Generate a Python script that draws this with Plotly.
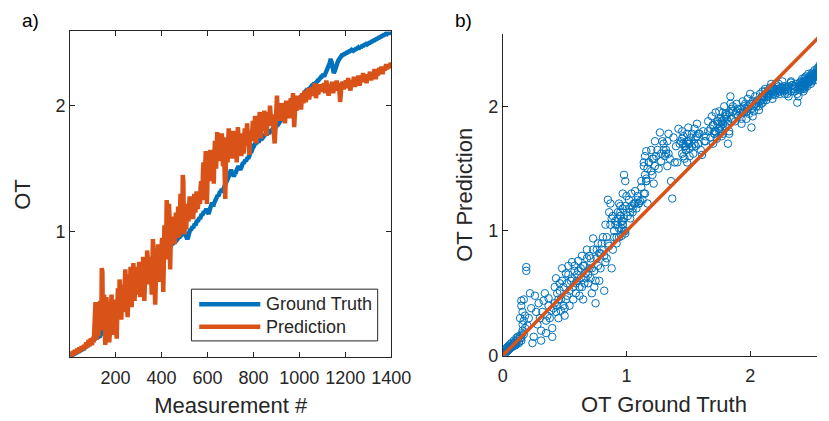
import plotly.graph_objects as go

# measurement index (every 2.5 measurements)
measurement = [2.5 * k for k in range(1, 561)]

# ground truth OT, read off panel a)
ground_truth = [
    0.01, 0.01, 0.02, 0.02, 0.02, 0.03, 0.02, 0.03, 0.03, 0.04, 0.03, 0.04, 0.04, 0.05, 0.04, 0.05, 0.05, 0.06, 0.05, 0.06,
    0.06, 0.07, 0.06, 0.07, 0.07, 0.08, 0.08, 0.09, 0.09, 0.09, 0.10, 0.10, 0.11, 0.11, 0.11, 0.12, 0.12, 0.13, 0.13, 0.14,
    0.14, 0.15, 0.14, 0.15, 0.15, 0.16, 0.15, 0.16, 0.16, 0.17, 0.16, 0.17, 0.17, 0.18, 0.18, 0.19, 0.19, 0.20, 0.21, 0.22,
    0.23, 0.24, 0.25, 0.26, 0.27, 0.28, 0.29, 0.30, 0.31, 0.31, 0.32, 0.33, 0.34, 0.35, 0.35, 0.36, 0.37, 0.37, 0.38, 0.39,
    0.40, 0.40, 0.41, 0.42, 0.42, 0.43, 0.43, 0.44, 0.44, 0.45, 0.45, 0.46, 0.46, 0.47, 0.47, 0.48, 0.48, 0.49, 0.49, 0.50,
    0.50, 0.51, 0.51, 0.52, 0.52, 0.53, 0.53, 0.54, 0.54, 0.55, 0.56, 0.56, 0.57, 0.57, 0.58, 0.58, 0.59, 0.59, 0.60, 0.60,
    0.61, 0.61, 0.62, 0.62, 0.63, 0.63, 0.64, 0.64, 0.65, 0.65, 0.66, 0.66, 0.67, 0.67, 0.68, 0.68, 0.69, 0.69, 0.70, 0.70,
    0.71, 0.71, 0.72, 0.72, 0.73, 0.73, 0.74, 0.74, 0.75, 0.75, 0.76, 0.76, 0.77, 0.77, 0.78, 0.78, 0.79, 0.79, 0.80, 0.80,
    0.81, 0.82, 0.82, 0.83, 0.83, 0.84, 0.84, 0.85, 0.85, 0.86, 0.86, 0.87, 0.87, 0.88, 0.88, 0.89, 0.89, 0.90, 0.90, 0.91,
    0.91, 0.92, 0.92, 0.93, 0.93, 0.93, 0.94, 0.94, 0.95, 0.95, 0.96, 0.96, 0.97, 0.97, 0.97, 0.98, 0.98, 0.99, 0.99, 0.99,
    0.98, 0.97, 0.96, 0.95, 0.94, 0.95, 0.97, 0.99, 1.00, 1.02, 1.01, 1.03, 1.02, 1.04, 1.03, 1.05, 1.04, 1.06, 1.05, 1.07,
    1.07, 1.09, 1.08, 1.10, 1.09, 1.11, 1.10, 1.12, 1.12, 1.14, 1.13, 1.15, 1.14, 1.16, 1.15, 1.17, 1.16, 1.18, 1.17, 1.16,
    1.15, 1.14, 1.16, 1.18, 1.20, 1.22, 1.21, 1.23, 1.21, 1.20, 1.22, 1.24, 1.23, 1.25, 1.26, 1.28, 1.27, 1.29, 1.28, 1.30,
    1.30, 1.32, 1.31, 1.33, 1.34, 1.32, 1.33, 1.35, 1.34, 1.36, 1.37, 1.39, 1.38, 1.40, 1.41, 1.43, 1.42, 1.45, 1.46, 1.48,
    1.49, 1.48, 1.47, 1.46, 1.45, 1.44, 1.45, 1.47, 1.46, 1.48, 1.49, 1.51, 1.50, 1.52, 1.51, 1.50, 1.49, 1.50, 1.51, 1.53,
    1.53, 1.55, 1.54, 1.56, 1.55, 1.57, 1.56, 1.58, 1.57, 1.59, 1.58, 1.60, 1.61, 1.63, 1.62, 1.64, 1.64, 1.66, 1.66, 1.68,
    1.68, 1.70, 1.69, 1.71, 1.70, 1.71, 1.70, 1.72, 1.71, 1.73, 1.72, 1.74, 1.73, 1.75, 1.74, 1.76, 1.75, 1.76, 1.75, 1.77,
    1.77, 1.78, 1.77, 1.78, 1.78, 1.79, 1.78, 1.80, 1.79, 1.80, 1.80, 1.81, 1.81, 1.82, 1.82, 1.83, 1.82, 1.83, 1.83, 1.84,
    1.84, 1.85, 1.85, 1.86, 1.86, 1.88, 1.88, 1.89, 1.89, 1.90, 1.90, 1.92, 1.92, 1.93, 1.93, 1.94, 1.94, 1.95, 1.95, 1.96,
    1.96, 1.97, 1.97, 1.98, 1.98, 1.99, 1.99, 2.00, 2.00, 2.01, 2.01, 2.02, 2.02, 2.03, 2.03, 2.04, 2.04, 2.05, 2.05, 2.06,
    2.06, 2.07, 2.07, 2.08, 2.08, 2.09, 2.09, 2.10, 2.10, 2.11, 2.10, 2.11, 2.11, 2.12, 2.12, 2.13, 2.13, 2.14, 2.14, 2.15,
    2.15, 2.16, 2.16, 2.17, 2.17, 2.18, 2.17, 2.18, 2.18, 2.19, 2.19, 2.20, 2.20, 2.21, 2.21, 2.22, 2.22, 2.23, 2.23, 2.24,
    2.24, 2.25, 2.23, 2.24, 2.24, 2.26, 2.26, 2.28, 2.28, 2.30, 2.31, 2.33, 2.34, 2.36, 2.36, 2.35, 2.33, 2.30, 2.28, 2.26,
    2.27, 2.28, 2.30, 2.31, 2.33, 2.34, 2.35, 2.36, 2.37, 2.38, 2.38, 2.39, 2.39, 2.40, 2.40, 2.41, 2.40, 2.41, 2.41, 2.42,
    2.41, 2.42, 2.42, 2.43, 2.42, 2.43, 2.43, 2.44, 2.43, 2.44, 2.43, 2.44, 2.44, 2.45, 2.44, 2.45, 2.44, 2.45, 2.45, 2.46,
    2.45, 2.46, 2.45, 2.46, 2.46, 2.47, 2.46, 2.47, 2.47, 2.48, 2.47, 2.48, 2.48, 2.49, 2.48, 2.49, 2.49, 2.50, 2.49, 2.50,
    2.49, 2.50, 2.50, 2.51, 2.50, 2.51, 2.51, 2.52, 2.51, 2.52, 2.52, 2.53, 2.52, 2.53, 2.53, 2.54, 2.53, 2.54, 2.54, 2.55,
    2.54, 2.55, 2.55, 2.56, 2.55, 2.56, 2.56, 2.57, 2.56, 2.57, 2.56, 2.57, 2.57, 2.58, 2.57, 2.58, 2.58, 2.59, 2.58, 2.58,
]

# predicted OT
prediction = [
    0.03, 0.02, 0.01, 0.03, 0.05, 0.03, 0.02, 0.04, 0.06, 0.04, 0.03, 0.05, 0.07, 0.05, 0.04, 0.06, 0.08, 0.06, 0.05, 0.07,
    0.09, 0.07, 0.06, 0.08, 0.10, 0.08, 0.07, 0.10, 0.12, 0.09, 0.08, 0.11, 0.14, 0.10, 0.09, 0.13, 0.15, 0.11, 0.10, 0.14,
    0.16, 0.12, 0.30, 0.40, 0.44, 0.18, 0.14, 0.25, 0.35, 0.17, 0.20, 0.28, 0.45, 0.32, 0.22, 0.71, 0.68, 0.24, 0.30, 0.50,
    0.38, 0.10, 0.15, 0.48, 0.35, 0.25, 0.42, 0.30, 0.12, 0.20, 0.35, 0.44, 0.50, 0.28, 0.18, 0.32, 0.46, 0.40, 0.30, 0.36,
    0.22, 0.15, 0.38, 0.55, 0.42, 0.35, 0.62, 0.50, 0.40, 0.30, 0.45, 0.58, 0.52, 0.45, 0.36, 0.60, 0.70, 0.55, 0.40, 0.38,
    0.32, 0.45, 0.66, 0.58, 0.48, 0.72, 0.65, 0.40, 0.52, 0.60, 0.75, 0.62, 0.45, 0.55, 0.68, 0.72, 0.58, 0.50, 0.65, 0.60,
    0.76, 0.68, 0.48, 0.55, 0.70, 0.62, 0.55, 0.80, 0.72, 0.45, 0.58, 0.72, 0.66, 0.62, 0.85, 0.78, 0.58, 0.65, 0.80, 0.70,
    0.78, 0.62, 0.50, 0.70, 0.94, 0.85, 0.68, 0.55, 0.42, 0.60, 0.85, 0.78, 0.72, 0.90, 0.82, 0.60, 0.70, 0.82, 0.90, 0.85,
    0.95, 0.80, 0.52, 0.75, 1.05, 0.95, 0.78, 0.90, 1.25, 1.15, 0.88, 1.05, 1.22, 1.10, 0.70, 0.85, 1.12, 1.00, 0.95, 1.05,
    1.08, 0.95, 0.90, 1.05, 1.15, 1.10, 1.02, 0.95, 1.20, 1.12, 0.96, 1.08, 1.30, 1.18, 1.05, 1.00, 1.45, 1.40, 1.00, 0.98,
    1.10, 1.05, 1.02, 1.15, 1.22, 1.12, 1.08, 1.20, 1.28, 1.18, 1.12, 1.15, 1.25, 1.20, 1.10, 1.18, 1.30, 1.22, 1.15, 1.22,
    1.32, 1.25, 1.18, 1.22, 1.28, 1.24, 1.22, 1.35, 1.40, 1.30, 1.25, 1.45, 1.55, 1.42, 1.30, 1.50, 1.64, 1.55, 1.22, 1.40,
    1.60, 1.52, 1.40, 1.55, 1.65, 1.58, 1.45, 1.52, 1.58, 1.48, 1.38, 1.60, 1.72, 1.65, 1.50, 1.62, 1.79, 1.72, 1.56, 1.65,
    1.70, 1.62, 1.60, 1.72, 1.78, 1.65, 1.52, 1.58, 1.62, 1.40, 1.26, 1.55, 1.75, 1.68, 1.55, 1.70, 1.82, 1.74, 1.60, 1.68,
    1.72, 1.65, 1.58, 1.70, 1.80, 1.72, 1.62, 1.68, 1.76, 1.65, 1.55, 1.70, 1.83, 1.75, 1.66, 1.72, 1.78, 1.70, 1.60, 1.68,
    1.78, 1.70, 1.62, 1.75, 1.82, 1.76, 1.68, 1.78, 1.86, 1.78, 1.70, 1.65, 1.61, 1.72, 1.80, 1.76, 1.72, 1.80, 1.88, 1.82,
    1.75, 1.85, 1.92, 1.80, 1.70, 1.78, 1.85, 1.80, 1.78, 1.88, 1.95, 1.86, 1.74, 1.82, 1.88, 1.84, 1.80, 1.90, 1.96, 1.88,
    1.82, 1.78, 1.76, 1.86, 1.95, 1.90, 1.86, 1.94, 2.00, 1.92, 1.84, 1.90, 1.93, 1.88, 1.86, 1.80, 1.70, 1.78, 1.95, 2.02,
    2.08, 1.98, 1.90, 1.96, 2.00, 1.94, 1.88, 1.96, 2.02, 1.98, 1.92, 1.95, 1.98, 1.90, 1.86, 1.95, 2.04, 2.00, 1.95, 1.98,
    2.02, 1.96, 1.90, 1.98, 2.06, 2.00, 1.94, 2.02, 2.10, 1.98, 1.83, 1.92, 2.04, 2.00, 1.96, 2.02, 2.08, 2.04, 2.00, 2.03,
    2.05, 2.00, 1.97, 2.04, 2.10, 2.06, 2.02, 2.08, 2.12, 2.07, 2.03, 2.05, 2.08, 2.12, 2.14, 2.10, 2.05, 2.08, 2.12, 2.10,
    2.08, 2.12, 2.15, 2.12, 2.10, 2.14, 2.18, 2.12, 2.06, 2.10, 2.14, 2.12, 2.09, 2.13, 2.17, 2.14, 2.11, 2.14, 2.16, 2.13,
    2.12, 2.15, 2.18, 2.14, 2.10, 2.15, 2.20, 2.16, 2.13, 2.10, 2.08, 2.12, 2.17, 2.14, 2.12, 2.16, 2.19, 2.14, 2.10, 2.13,
    2.16, 2.14, 2.12, 2.16, 2.20, 2.17, 2.14, 2.16, 2.18, 2.10, 2.03, 2.08, 2.15, 2.17, 2.19, 2.16, 2.13, 2.15, 2.17, 2.19,
    2.20, 2.17, 2.14, 2.18, 2.22, 2.19, 2.16, 2.14, 2.12, 2.16, 2.20, 2.18, 2.17, 2.20, 2.23, 2.19, 2.15, 2.18, 2.21, 2.19,
    2.18, 2.21, 2.24, 2.20, 2.16, 2.19, 2.22, 2.20, 2.19, 2.22, 2.26, 2.23, 2.20, 2.22, 2.24, 2.21, 2.18, 2.21, 2.25, 2.23,
    2.22, 2.25, 2.27, 2.24, 2.20, 2.23, 2.26, 2.25, 2.23, 2.26, 2.29, 2.26, 2.21, 2.24, 2.27, 2.25, 2.24, 2.27, 2.30, 2.27,
    2.26, 2.29, 2.31, 2.28, 2.25, 2.28, 2.30, 2.29, 2.28, 2.31, 2.33, 2.31, 2.29, 2.31, 2.32, 2.30, 2.30, 2.32, 2.34, 2.33,
]

x_ticks_a = [200, 400, 600, 800, 1000, 1200, 1400]
y_ticks_a = [1, 2]
ticks_b = [0, 1, 2]

BLUE = "#0072BD"
ORANGE = "#D95319"
AX = "#262626"
FONT = "Liberation Sans, Arial, sans-serif"

fig = go.Figure()

# panel a) - time series
fig.add_trace(go.Scatter(x=measurement, y=ground_truth, mode="lines",
                         name="Ground Truth", line=dict(color=BLUE, width=4.5),
                         xaxis="x", yaxis="y"))
fig.add_trace(go.Scatter(x=measurement, y=prediction, mode="lines",
                         name="Prediction", line=dict(color=ORANGE, width=4.5),
                         xaxis="x", yaxis="y"))

# panel b) - prediction vs ground truth
fig.add_trace(go.Scatter(x=ground_truth, y=prediction, mode="markers",
                         marker=dict(symbol="circle-open", size=7.5, color=BLUE,
                                     line=dict(width=1, color=BLUE)),
                         xaxis="x2", yaxis="y2"))
ident = [0, max(ground_truth) + 0.05]
fig.add_trace(go.Scatter(x=ident, y=ident, mode="lines",
                         line=dict(color=ORANGE, width=3.5),
                         xaxis="x2", yaxis="y2"))

axis_common = dict(showgrid=False, zeroline=False, showline=True,
                   linecolor=AX, linewidth=1, ticks="inside", ticklen=5,
                   tickcolor=AX, tickfont=dict(size=18, color=AX, family=FONT))

def px_x(v):
    return v / 829

def px_y(v):
    return 1 - v / 421

# hand-drawn legend box (MATLAB style, long line samples)
shapes = [
    dict(type="rect", xref="paper", yref="paper", x0=px_x(184), x1=px_x(376),
         y0=px_y(341), y1=px_y(288), line=dict(color=AX, width=1),
         fillcolor="white", layer="above"),
    dict(type="line", xref="paper", yref="paper", x0=px_x(192), x1=px_x(255),
         y0=px_y(303.5), y1=px_y(303.5), line=dict(color=BLUE, width=4.5),
         layer="above"),
    dict(type="line", xref="paper", yref="paper", x0=px_x(192), x1=px_x(255),
         y0=px_y(326.5), y1=px_y(326.5), line=dict(color=ORANGE, width=4.5),
         layer="above"),
]

def label(text, x, y, size, anchor="left", color=AX):
    return dict(text=text, x=px_x(x), y=px_y(y), xref="paper", yref="paper",
                xanchor=anchor, yanchor="middle", showarrow=False,
                font=dict(size=size, color=color, family=FONT))

annotations = [
    label("Ground Truth", 259, 303.5, 18),
    label("Prediction", 259, 326.5, 18),
    label("a)", 7, 13, 19, color="black"),
    label("b)", 454, 13, 19, color="black"),
    label("OT Ground Truth", 671, 406, 22, anchor="center"),
]

fig.update_layout(
    width=829, height=421,
    margin=dict(l=0, r=0, t=0, b=0),
    showlegend=False,
    paper_bgcolor="white", plot_bgcolor="white",
    font=dict(family=FONT, color=AX),
    xaxis=dict(domain=[px_x(59), px_x(390)], range=[2.5, 1400],
               tickvals=x_ticks_a, mirror="ticks", anchor="y",
               ticklabelstandoff=4,
               title=dict(text="Measurement #", font=dict(size=22), standoff=10),
               **axis_common),
    yaxis=dict(domain=[px_y(358), px_y(24)], range=[0, 2.59],
               tickvals=y_ticks_a, mirror="ticks", anchor="x",
               title=dict(text="OT", font=dict(size=22), standoff=18),
               **axis_common),
    xaxis2=dict(domain=[px_x(505), 1.0], range=[0, 2.54],
                tickvals=ticks_b, anchor="y2", ticklabelstandoff=4,
                **axis_common),
    yaxis2=dict(domain=[px_y(356), px_y(26.7)], range=[0, 2.58],
                tickvals=ticks_b, anchor="x2",
                title=dict(text="OT Prediction", font=dict(size=22), standoff=9),
                **axis_common),
    shapes=shapes,
    annotations=annotations,
)

fig.write_html("out.html")
